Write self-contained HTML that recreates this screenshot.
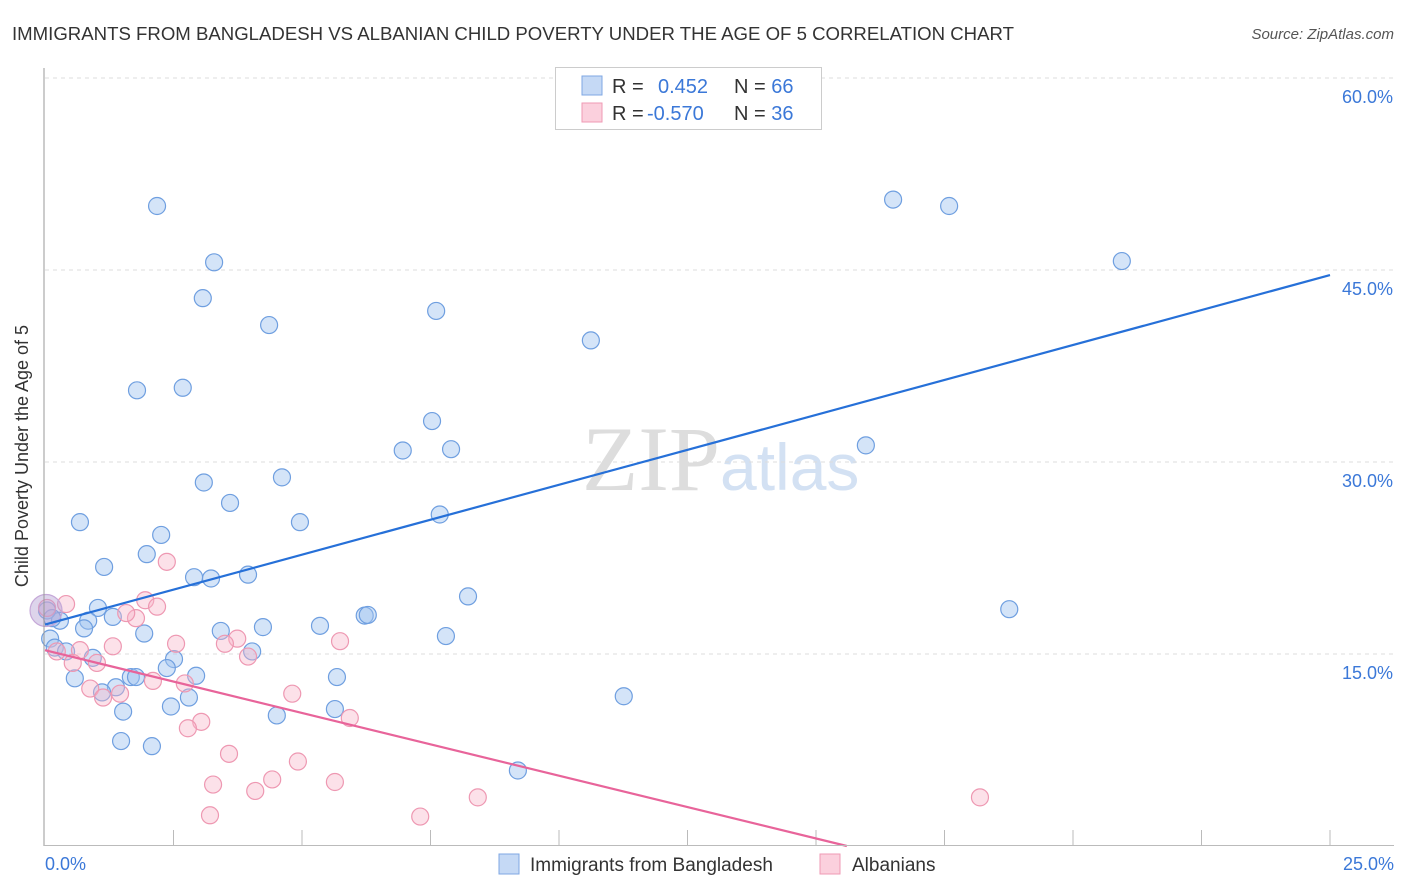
<!DOCTYPE html>
<html><head><meta charset="utf-8"><style>
body{margin:0;background:#fff;font-family:"Liberation Sans",sans-serif;}
svg{display:block}
</style></head><body>
<svg id="chart" width="1406" height="892">
<text x="12" y="40" font-size="18" fill="#333" textLength="1002" lengthAdjust="spacingAndGlyphs">IMMIGRANTS FROM BANGLADESH VS ALBANIAN CHILD POVERTY UNDER THE AGE OF 5 CORRELATION CHART</text>
<text x="1394" y="39" font-size="15" font-style="italic" fill="#555" text-anchor="end">Source: ZipAtlas.com</text>
<text x="720" y="490" font-size="92" font-family="Liberation Serif,serif" fill="#ddd" text-anchor="end">ZIP</text>
<text x="720" y="490" font-size="66" fill="#d3e1f3">atlas</text>
<g id="grid"></g><g id="marks"></g>
<line x1="44" y1="68" x2="44" y2="846" stroke="#999"/>
<line x1="44" y1="845.5" x2="1394" y2="845.5" stroke="#bbb"/>
<text x="28" y="456" font-size="18" fill="#333" text-anchor="middle" transform="rotate(-90 28 456)">Child Poverty Under the Age of 5</text>
<text x="45" y="870" font-size="18" fill="#3b78d8">0.0%</text>
<text x="1394" y="870" font-size="18" fill="#3b78d8" text-anchor="end">25.0%</text>
<g>
<rect x="555.5" y="67.5" width="266" height="62" fill="#fff" stroke="#ccc"/>
<rect x="582" y="76" width="20" height="19" fill="#c5d9f5" stroke="#7fa7e3"/>
<rect x="582" y="103" width="20" height="19" fill="#fbd0dd" stroke="#ef9ab4"/>
<text x="612" y="93" font-size="20" fill="#333">R = <tspan fill="#3b78d8" x="658">0.452</tspan><tspan x="734">N = </tspan><tspan fill="#3b78d8">66</tspan></text>
<text x="612" y="120" font-size="20" fill="#333">R = <tspan fill="#3b78d8" x="647">-0.570</tspan><tspan x="734">N = </tspan><tspan fill="#3b78d8">36</tspan></text>
</g>
<g>
<rect x="499" y="854" width="20" height="20" fill="#c5d9f5" stroke="#7fa7e3"/>
<text x="530" y="871" font-size="19" fill="#333">Immigrants from Bangladesh</text>
<rect x="820" y="854" width="20" height="20" fill="#fbd0dd" stroke="#ef9ab4"/>
<text x="852" y="871" font-size="19" fill="#333">Albanians</text>
</g>
</svg>
<script>
const yTicks=[15,30,45,60];
const yTickLabels=["15.0%","30.0%","45.0%","60.0%"];
const xTicks=[2.5,5,7.5,10,12.5,15,17.5,20,22.5,25];
const blueX=[2.18,3.29,3.07,4.36,7.61,10.62,16.5,17.59,20.95,1.79,2.68,7.53,6.96,7.9,15.97,0.68,3.09,3.6,4.61,4.96,7.68,2.26,1.98,1.15,2.9,3.23,3.95,1.03,1.32,0.29,0.84,0.76,1.93,3.42,4.24,5.35,6.22,6.28,7.8,8.23,18.76,0.1,0.19,0.41,0.93,2.51,2.37,2.94,4.03,1.67,1.77,0.58,1.38,1.11,2.8,1.52,2.45,4.51,5.64,5.68,1.48,2.08,11.26,9.2,0.04,0.14];
const blueY=[50,45.6,42.8,40.7,41.8,39.5,50.5,50,45.7,35.6,35.8,33.2,30.9,31,31.3,25.3,28.4,26.8,28.8,25.3,25.9,24.3,22.8,21.8,21,20.9,21.2,18.6,17.9,17.6,17.6,17.0,16.6,16.8,17.1,17.2,18.0,18.05,16.4,19.5,18.5,16.2,15.5,15.2,14.7,14.6,13.9,13.3,15.2,13.2,13.2,13.1,12.4,12,11.6,10.5,10.9,10.2,10.7,13.2,8.2,7.8,11.7,5.9,18.4,17.8];
const pinkX=[0.04,0.41,2.37,1.95,2.18,1.77,1.58,2.55,3.74,3.5,5.74,0.23,0.68,1.32,1.01,0.54,3.95,2.72,2.1,0.88,1.13,1.46,4.81,3.04,2.78,5.93,3.58,4.92,4.42,5.64,3.27,4.09,8.42,18.19,3.21,7.3];
const pinkY=[18.6,18.9,22.2,19.2,18.7,17.8,18.2,15.8,16.2,15.8,16,15.2,15.3,15.6,14.3,14.3,14.8,12.7,12.9,12.3,11.6,11.9,11.9,9.7,9.2,10,7.2,6.6,5.2,5,4.8,4.3,3.8,3.8,2.4,2.3];
const blueLine=[[0,17.3],[25,44.6]];
const pinkLine=[[0,15.3],[15.6,0]];
const X=v=>45+v*51.4, Y=v=>846-v*12.8;
const NS="http://www.w3.org/2000/svg";
const grid=document.getElementById('grid'), marks=document.getElementById('marks');
yTicks.forEach((t,i)=>{
 const l=document.createElementNS(NS,'line');
 l.setAttribute('x1',45);l.setAttribute('x2',1394);l.setAttribute('y1',Y(t));l.setAttribute('y2',Y(t));
 l.setAttribute('stroke','#ddd');l.setAttribute('stroke-dasharray','4,4');
 
 
 grid.appendChild(l);
 const tx=document.createElementNS(NS,'text');
 tx.setAttribute('x',1393);tx.setAttribute('y',Y(t)+25);tx.setAttribute('text-anchor','end');
 tx.setAttribute('font-size','18');tx.setAttribute('fill','#3b78d8');tx.textContent=yTickLabels[i];
 
 
 grid.appendChild(tx);
});
xTicks.forEach(t=>{
 const l=document.createElementNS(NS,'line');
 l.setAttribute('x1',X(t));l.setAttribute('x2',X(t));l.setAttribute('y1',830);l.setAttribute('y2',846);
 l.setAttribute('stroke','#bbb');
 
 
 grid.appendChild(l);
});
function dot(x,y,fill,stroke,name,r){
 const c=document.createElementNS(NS,'circle');
 c.setAttribute('cx',X(x));c.setAttribute('cy',Y(y));c.setAttribute('r',r||8.5);
 c.setAttribute('fill',fill);c.setAttribute('stroke',stroke);c.setAttribute('stroke-width','1.2');
 
 
 marks.appendChild(c);
}
blueX.forEach((x,i)=>dot(x,blueY[i],'rgba(160,195,240,0.45)','#6f9fe0','bangladesh-point'));
pinkX.forEach((x,i)=>dot(x,pinkY[i],'rgba(248,180,200,0.4)','#ee98b2','albanian-point'));
dot(0.02,18.4,'rgba(180,160,210,0.45)','#c5a8d8','large-cluster-point',16);
function line(p,col,name){
 const l=document.createElementNS(NS,'line');
 l.setAttribute('x1',X(p[0][0]));l.setAttribute('y1',Y(p[0][1]));l.setAttribute('x2',X(p[1][0]));l.setAttribute('y2',Y(p[1][1]));
 l.setAttribute('stroke',col);l.setAttribute('stroke-width','2.2');
 
 
 marks.appendChild(l);
}
line(blueLine,'#2670d8','bangladesh-trend-line');
line(pinkLine,'#e8649a','albanian-trend-line');
</script>
</body></html>
